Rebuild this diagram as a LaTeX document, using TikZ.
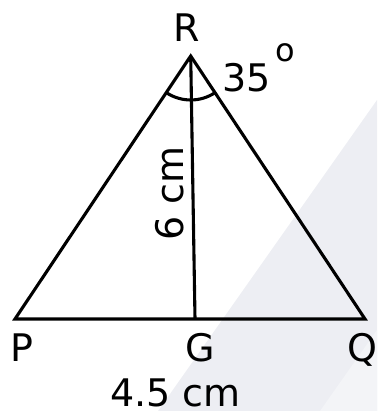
\documentclass[tikz,border=0pt]{standalone}
\usepackage{fontspec}
\setmainfont{DejaVu Sans}
\begin{document}
\begin{tikzpicture}[x=1pt,y=1pt,
  edge/.style={line width=3.1pt, black},
  lbl/.style={inner sep=0pt, anchor=base, font=\fontsize{38}{40}\selectfont},
  sup/.style={inner sep=0pt, anchor=base, font=\fontsize{32}{34}\selectfont}]
\useasboundingbox (0,0) rectangle (377,411);
% faint watermark
\fill[color={rgb,255:red,237;green,238;blue,243}] (158,0) -- (377,311) -- (377,0) -- cycle;
\fill[color={rgb,255:red,243;green,244;blue,247}] (320,0) -- (377,81) -- (377,0) -- cycle;
% points
\coordinate (R) at (190.7,355);
\coordinate (P) at (15,92);
\coordinate (Q) at (365,92);
\coordinate (G) at (195,92);
% triangle and median
\draw[edge] (P) -- (R) -- (Q) -- cycle;
\draw[edge] (R) -- (G);
\draw[edge] (R) ++(236.25:44) arc[start angle=236.25, end angle=303.5, radius=44];
% labels
\node[lbl] (lR) at (187,369.5) {R};
\node[lbl] (l35) at (246.7,319) {35};
\node[sup] (ldeg) at (285,349) {o};
\node[lbl] (lP) at (21.5,49) {P};
\node[lbl] (lG) at (200,49) {G};
\node[lbl] (lQ) at (362,49) {Q};
\node[lbl] (lb) at (175.5,5) {4.5 cm};
\node[inner sep=0pt, rotate=90, font=\fontsize{38}{40}\selectfont] (lh) at (170,217.5) {6 cm};
\end{tikzpicture}
\end{document}
